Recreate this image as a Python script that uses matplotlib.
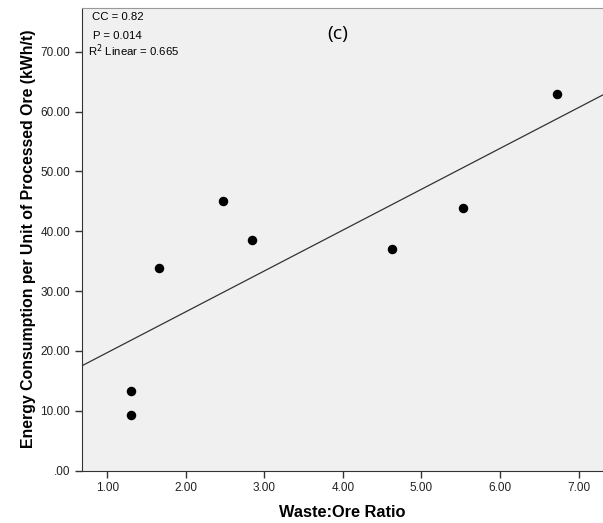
import matplotlib.pyplot as plt
import numpy as np

plt.rcParams["font.family"] = ["Liberation Sans", "DejaVu Sans"]

# waste:ore ratio vs energy consumption (kWh/t)
waste_ore = [1.30, 1.30, 1.66, 2.48, 2.84, 4.62, 5.53, 6.73]
energy = [13.3, 9.2, 33.8, 45.0, 38.5, 37.1, 43.8, 62.9]
x_ticks = [1, 2, 3, 4, 5, 6, 7]
y_ticks = [0, 10, 20, 30, 40, 50, 60, 70]

fig = plt.figure(figsize=(6.03, 5.23), dpi=100)
ax = fig.add_axes([82 / 603, 1 - 470.5 / 523, 1 - 82 / 603, (470.5 - 8) / 523])
ax.set_facecolor("#f0f0f0")

xlim = (0.68, 7.31)
ax.set_xlim(xlim)
ax.set_ylim(0, 77.3)

slope, icpt = np.polyfit(waste_ore, energy, 1)
xl = np.array(xlim)
ax.plot(xl, slope * xl + icpt, color="#333333", lw=0.9)
ax.scatter(waste_ore, energy, s=34, color="black", zorder=3)

ax.set_xticks(x_ticks)
ax.set_xticklabels(["%.2f" % v for v in x_ticks])
ax.set_yticks(y_ticks)
ax.set_yticklabels([".00"] + ["%.2f" % v for v in y_ticks[1:]])
ax.tick_params(direction="out", length=5, width=1, colors="#333333",
               labelsize=8.5, labelcolor="#222222")

for s in ["left", "bottom"]:
    ax.spines[s].set_color("#333333")
ax.spines["top"].set_color("#999999")
ax.spines["right"].set_visible(False)

ax.set_xlabel("Waste:Ore Ratio", fontsize=11.8, fontweight="bold", labelpad=8)
ax.set_ylabel("Energy Consumption per Unit of Processed Ore (kWh/t)",
              fontsize=11.4, fontweight="bold", labelpad=3)

fig.text(92 / 603, 1 - 17 / 523, "CC = 0.82", fontsize=8.2, va="center")
fig.text(93 / 603, 1 - 36 / 523, "P = 0.014", fontsize=8.2, va="center")
fig.text(88 / 603, 1 - 51 / 523, "R$^2$ Linear = 0.665", fontsize=8.2, va="center")
fig.text(338 / 603, 1 - 34 / 523, "(c)", fontsize=14, family="Open Sans",
         ha="center", va="center")

plt.savefig("out.png", dpi=100)
